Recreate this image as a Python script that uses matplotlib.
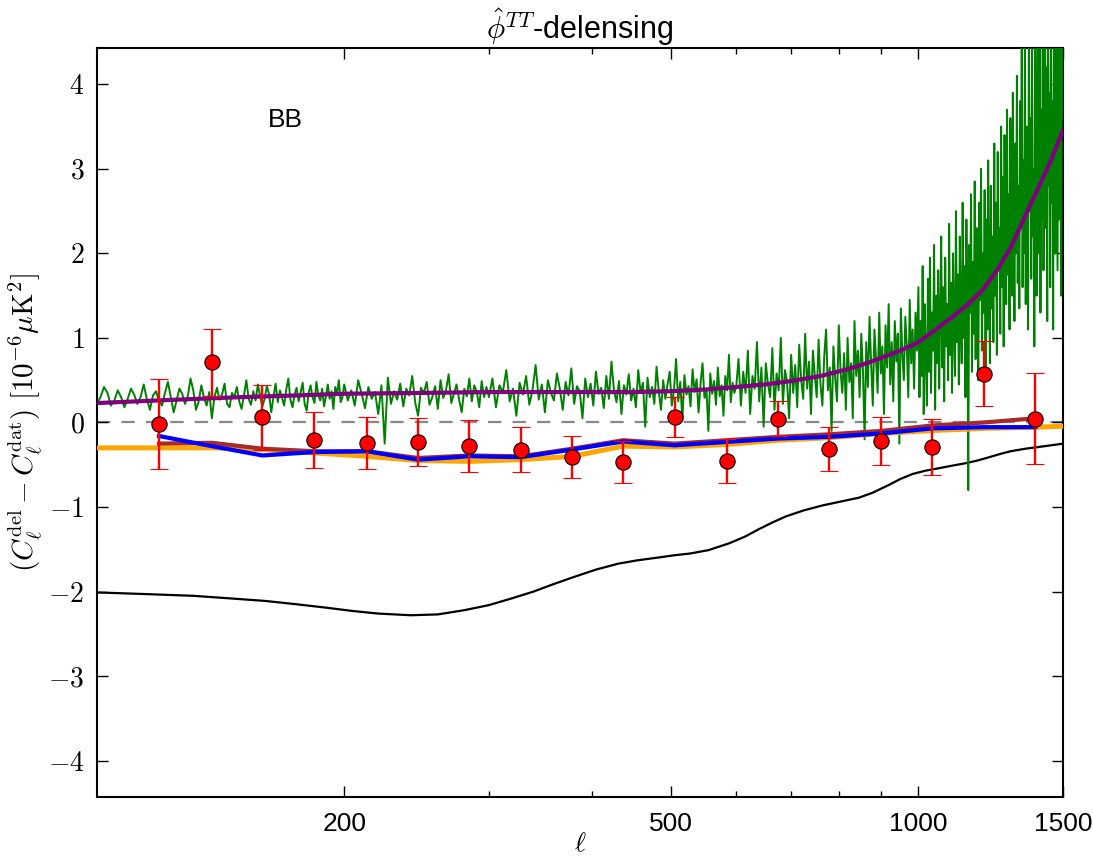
import numpy as np
import matplotlib
matplotlib.use('Agg')
import matplotlib.pyplot as plt
from matplotlib.ticker import FixedLocator, NullFormatter, FixedFormatter

plt.rcParams['font.family'] = ['Liberation Sans', 'DejaVu Sans']
plt.rcParams['mathtext.fontset'] = 'cm'

# ---------------- data ----------------
bin_ell = [119, 138, 159, 184, 213, 246, 284, 328, 379, 437, 505, 584, 675, 779, 900, 1040, 1202, 1388]
data_vals = [-0.015, 0.71, 0.06, -0.205, -0.24, -0.235, -0.28, -0.32, -0.41, -0.47,
             0.065, -0.455, 0.045, -0.31, -0.22, -0.29, 0.575, 0.045]
data_errs = [0.53, 0.40, 0.385, 0.33, 0.31, 0.285, 0.31, 0.265, 0.245, 0.25,
             0.235, 0.26, 0.21, 0.26, 0.28, 0.335, 0.385, 0.535]
blue_vals = [-0.16, -0.28, -0.39, -0.35, -0.34, -0.44, -0.40, -0.41, -0.32, -0.225,
             -0.27, -0.23, -0.19, -0.17, -0.13, -0.07, -0.055, -0.055]
brown_vals = [-0.25, -0.24, -0.31, -0.34, -0.34, -0.42, -0.39, -0.40, -0.31, -0.21,
              -0.25, -0.21, -0.17, -0.14, -0.10, -0.035, 0.0, 0.05]
orange_ell = [100, 119, 138, 159, 184, 213, 246, 284, 328, 379, 437, 505, 584, 675, 779, 900, 1040, 1202, 1388, 1500]
orange_vals = [-0.30, -0.30, -0.30, -0.32, -0.36, -0.40, -0.45, -0.46, -0.44, -0.40, -0.28,
               -0.29, -0.26, -0.21, -0.18, -0.13, -0.095, -0.07, -0.055, -0.045]

purple_ell = [100, 125, 150, 175, 200, 250, 300, 375, 450, 500, 550, 600, 650, 700, 760,
              820, 870, 950, 1000, 1050, 1100, 1150, 1200, 1250, 1300, 1350, 1400, 1450, 1500]
purple_vals = [0.23, 0.27, 0.30, 0.32, 0.34, 0.35, 0.36, 0.36, 0.36, 0.37, 0.39, 0.42, 0.45, 0.49, 0.55,
               0.63, 0.71, 0.85, 0.95, 1.10, 1.25, 1.40, 1.58, 1.82, 2.10, 2.45, 2.78, 3.10, 3.46]

black_ell = [100, 115, 131, 145, 160, 175, 190, 205, 220, 241, 260, 280, 300, 320, 340, 360,
             380, 405, 431, 455, 480, 505, 527, 555, 588, 615, 640, 665, 690, 725, 765, 800,
             846, 880, 920, 950, 983, 1020, 1060, 1100, 1144, 1180, 1220, 1260, 1295, 1350,
             1400, 1450, 1500]
black_vals = [-2.01, -2.03, -2.05, -2.08, -2.11, -2.15, -2.19, -2.23, -2.26, -2.28, -2.27, -2.22,
              -2.16, -2.08, -2.00, -1.91, -1.83, -1.74, -1.67, -1.63, -1.60, -1.57, -1.55, -1.51,
              -1.43, -1.35, -1.26, -1.18, -1.11, -1.04, -0.98, -0.94, -0.89, -0.83, -0.74, -0.67,
              -0.61, -0.57, -0.54, -0.51, -0.48, -0.45, -0.41, -0.37, -0.34, -0.31, -0.29, -0.27,
              -0.25]

# green (noisy) curve, sampled on five ell segments
green_ell_a = np.arange(100, 200, 1)
green_a = [0.22, 0.30, 0.42, 0.35, 0.20, 0.26, 0.38, 0.30, 0.18, 0.28,
           0.40, 0.33, 0.22, 0.30, 0.45, 0.28, 0.15, 0.32, 0.37, 0.25,
           0.20, 0.35, 0.48, 0.30, 0.12, 0.26, 0.40, 0.34, 0.22, 0.31,
           0.52, 0.38, 0.15, 0.25, 0.44, 0.29, 0.20, 0.36, 0.05, 0.30,
           0.41, 0.27, 0.33, 0.46, 0.22, 0.18, 0.35, 0.30, 0.42, 0.25,
           0.16, 0.32, 0.50, 0.28, 0.21, 0.37, 0.26, 0.45, 0.31, 0.19,
           0.28, 0.43, 0.34, 0.12, 0.30, 0.46, 0.24, 0.38, 0.29, 0.20,
           0.39, 0.52, 0.27, 0.18, 0.33, 0.41, 0.25, 0.36, 0.47, 0.22,
           0.14, 0.35, 0.44, 0.30, 0.23, 0.48, 0.32, 0.26, 0.40, 0.19,
           0.31, 0.45, 0.28, 0.37, 0.16, 0.42, 0.34, 0.50, 0.24, 0.30]
green_ell_a2 = np.arange(200, 300, 2)
green_a2 = [0.45, 0.26, 0.38, 0.20, 0.50, 0.34, 0.17, 0.42, 0.28, 0.36,
            0.10, 0.44, -0.25, 0.53, 0.22, 0.37, 0.27, 0.46, 0.19, 0.40,
            0.32, 0.55, 0.24, 0.08, 0.41, 0.35, 0.48, 0.21, 0.30, 0.43,
            0.16, 0.50, 0.29, 0.38, 0.57, 0.23, 0.34, 0.45, 0.27, 0.12,
            0.40, 0.31, 0.52, 0.25, 0.44, 0.36, 0.18, 0.49, 0.30, 0.42]
green_ell_b = np.arange(300, 600, 3)
green_b = [0.30, 0.52, 0.18, 0.44, 0.36, 0.62, 0.25, 0.40, 0.08, 0.47,
           0.33, 0.55, 0.21, 0.38, 0.68, 0.27, 0.45, 0.12, 0.50, 0.35,
           0.26, 0.58, 0.40, 0.15, 0.48, 0.32, 0.64, 0.22, 0.43, 0.37,
           0.05, 0.52, 0.30, 0.46, 0.20, 0.60, 0.34, 0.41, 0.17, 0.55,
           0.28, 0.72, 0.38, 0.24, 0.49, 0.10, 0.44, 0.33, 0.57, 0.26,
           0.40, 0.18, 0.62, 0.35, 0.47, -0.05, 0.53, 0.30, 0.42, 0.22,
           0.66, 0.37, 0.15, 0.50, 0.28, 0.45, 0.60, 0.20, 0.38, 0.75,
           0.25, 0.48, 0.02, 0.56, 0.33, 0.43, 0.19, 0.63, 0.36, 0.51,
           0.12, 0.46, 0.70, 0.29, 0.40, -0.10, 0.58, 0.34, 0.49, 0.21,
           0.65, 0.31, 0.44, 0.08, 0.55, 0.38, 0.80, 0.24, 0.47, 0.35]
green_ell_c = np.arange(600, 1000, 4)
green_c = [0.42, 0.75, 0.20, 0.60, 0.35, 0.85, 0.10, 0.55, 0.40, 0.95,
           0.25, 0.65, -0.05, 0.70, 0.45, 0.30, 0.88, 0.15, 0.58, 0.38,
           1.00, 0.22, 0.62, 0.48, 0.05, 0.80, 0.35, 0.68, 0.18, 0.92,
           0.50, 0.28, 1.05, 0.40, 0.72, 0.10, 0.85, 0.55, 0.30, 0.98,
           0.45, 0.20, 0.78, 1.10, 0.38, 0.65, -0.10, 0.90, 0.52, 0.25,
           1.15, 0.60, 0.35, 0.82, 0.15, 1.00, 0.48, 0.70, 0.05, 1.20,
           0.55, 0.85, 0.30, 1.05, 0.62, -0.20, 0.95, 0.42, 1.25, 0.68,
           0.20, 1.10, 0.75, 0.35, 1.30, 0.58, 0.90, 0.10, 1.15, 0.65,
           1.40, 0.45, 0.95, 0.25, 1.20, 0.72, 1.05, -0.25, 1.35, 0.80,
           0.50, 1.25, 0.92, 0.30, 1.45, 0.70, 1.10, 0.40, 1.30, 0.85]
green_ell_d = np.arange(1000, 1500, 3)
green_d = [1.60, 0.30, 1.20, 0.55, 1.85, 0.10, 1.40, 0.75, 0.20, 1.70,
           0.60, 1.95, 0.35, 1.30, 0.85, 2.10, 0.15, 1.50, 0.70, 1.80,
           0.40, 1.25, 2.20, 0.65, 1.60, 0.25, 1.95, 0.90, 1.40, 0.50,
           2.35, 0.80, 1.65, 0.35, 2.00, 1.10, 0.55, 2.50, 0.95, 1.75,
           0.45, 2.20, 1.20, 0.70, 2.60, 1.00, 1.85, 0.30, 2.40, 1.45,
           -0.80, 2.10, 1.30, 2.70, 0.60, 1.90, 1.05, 2.85, 0.75, 2.30,
           1.20, 0.50, 2.60, 1.45, 3.00, 0.85, 2.00, 1.30, 2.75, 0.65,
           2.40, 1.10, 3.10, 1.60, 0.70, 2.80, 1.35, 2.20, 0.95, 3.30,
           1.50, 2.60, 0.80, 3.20, 1.80, 2.30, 1.05, 3.50, 1.60, 2.90,
           0.90, 3.40, 2.10, 1.40, 3.70, 1.75, 2.70, 1.10, 3.60, 2.20,
           1.50, 3.90, 2.40, 1.20, 3.30, 2.00, 4.10, 1.65, 2.80, 1.35,
           3.80, 2.30, 4.50, 1.60, 3.10, 2.00, 4.60, 1.40, 3.50, 2.60,
           1.10, 4.70, 2.50, 3.60, 1.70, 4.50, 2.20, 3.00, 0.90, 4.80,
           2.70, 1.50, 4.60, 3.20, 2.00, 4.90, 1.30, 3.70, 2.40, 4.50,
           1.80, 3.50, 4.80, 2.30, 4.20, 1.20, 5.00, 2.80, 3.90, 1.60,
           4.70, 2.60, 3.80, 1.10, 4.90, 3.00, 2.00, 5.10, 3.40, 1.80,
           4.60, 2.40, 5.20, 3.10, 1.50, 4.80, 3.60]

xtick_vals = [200, 500, 1000, 1500]
xtick_labels = ['200', '500', '1000', '1500']
xminor_vals = [300, 400, 600, 700, 800, 900]
ytick_vals = [-4, -3, -2, -1, 0, 1, 2, 3, 4]
ytick_labels = [r'$-4$', r'$-3$', r'$-2$', r'$-1$', r'$0$', r'$1$', r'$2$', r'$3$', r'$4$']

title_text = r'$\hat{\phi}^{TT}$-delensing'
ylabel_text = r'$(C_\ell^{\rm del} - C_\ell^{\rm dat})\ [10^{-6}\mu{\rm K}^2]$'
xlabel_text = r'$\ell$'
panel_text = 'BB'

# ---------------- plot ----------------
fig = plt.figure(figsize=(10.93, 8.61), dpi=100)
ax = fig.add_axes([0.0887, 0.0743, 0.8839, 0.8700])

green_ell = np.concatenate([green_ell_a, green_ell_a2, green_ell_b, green_ell_c, green_ell_d])
green_vals = np.concatenate([green_a, green_a2, green_b, green_c, green_d])

ax.axhline(0, color='#888888', ls='--', lw=1.6, dashes=(6, 5), zorder=1)
ax.plot(black_ell, black_vals, color='black', lw=1.6, zorder=2)
ax.plot(green_ell, green_vals, color='green', lw=1.4, zorder=3)
ax.plot(purple_ell, purple_vals, color='purple', lw=3.0, zorder=4)
ax.plot(orange_ell, orange_vals, color='orange', lw=3.6, zorder=5)
ax.plot(bin_ell, brown_vals, color='brown', lw=3.0, zorder=6)
ax.plot(bin_ell, blue_vals, color='blue', lw=3.0, zorder=7)
ax.errorbar(bin_ell, data_vals, yerr=data_errs, fmt='o', color='red', ecolor='red',
            mfc='red', mec='black', mew=0.8, ms=11, elinewidth=1.7, capsize=6.5,
            capthick=1.7, zorder=8)

ax.set_xscale('log')
ax.set_xlim(100, 1500)
ax.set_ylim(-4.43, 4.43)

ax.xaxis.set_major_locator(FixedLocator(xtick_vals))
ax.xaxis.set_major_formatter(FixedFormatter(xtick_labels))
ax.xaxis.set_minor_locator(FixedLocator(xminor_vals))
ax.xaxis.set_minor_formatter(NullFormatter())
ax.yaxis.set_major_locator(FixedLocator(ytick_vals))
ax.yaxis.set_major_formatter(FixedFormatter(ytick_labels))

ax.tick_params(which='both', direction='in', top=True, right=True)
ax.tick_params(which='major', length=8, width=1)
ax.tick_params(which='minor', length=4, width=1)
ax.tick_params(axis='x', labelsize=19, pad=11)
ax.tick_params(axis='y', labelsize=20, pad=9)
for s in ax.spines.values():
    s.set_linewidth(1.5)

ax.set_title(title_text, fontsize=22, pad=5)
ax.set_xlabel(xlabel_text, fontsize=19, labelpad=-3)
ax.set_ylabel(ylabel_text, fontsize=21, labelpad=2)
ax.text(0.177, 0.895, panel_text, transform=ax.transAxes, fontsize=19)

fig.savefig('out.png', dpi=100, facecolor='white')
